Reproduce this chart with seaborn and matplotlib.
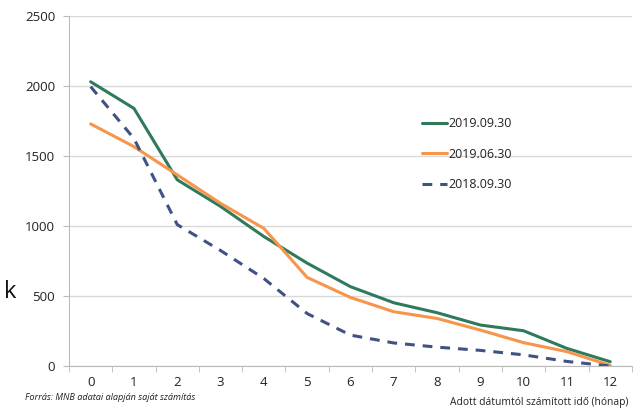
import matplotlib
matplotlib.use("Agg")
import matplotlib.pyplot as plt
import pandas as pd
import seaborn as sns

sns.set_style("white")
plt.rcParams["font.family"] = ["Open Sans", "DejaVu Sans"]

# months elapsed since the given date
months = list(range(13))
s_2019_09 = [2030, 1840, 1330, 1140, 925, 735, 567, 452, 381, 293, 252, 126, 31]
s_2019_06 = [1729, 1567, 1365, 1162, 983, 633, 490, 388, 340, 257, 167, 103, 5]
s_2018_09 = [1995, 1625, 1010, 825, 625, 375, 221, 165, 135, 112, 80, 33, 0]

labels = ["2019.09.30", "2019.06.30", "2018.09.30"]
colors = ["#2f7a5a", "#f7954a", "#3f5283"]
series = [s_2019_09, s_2019_06, s_2018_09]

fig = plt.figure(figsize=(6.36, 4.09), dpi=100)
ax = fig.add_axes([0.1085, 0.105, 0.885, 0.856])

for lab, col, vals in zip(labels, colors, series):
    df = pd.DataFrame({"month": months, "value": vals})
    line_style = (0, (3.2, 2.6)) if lab == "2018.09.30" else "-"
    sns.lineplot(data=df, x="month", y="value", ax=ax, color=col,
                 linewidth=2.2, linestyle=line_style, label=lab)

ax.set_xlim(-0.5, 12.5)
ax.set_ylim(0, 2500)
ax.set_yticks(range(0, 2501, 500))
ax.set_xticks(months)
ax.set_xticks([m + 0.5 for m in range(-1, 13)], minor=True)
ax.set_xlabel("")
ax.set_ylabel("")
ax.grid(axis="y", color="#d9d9d9", linewidth=1)
ax.tick_params(axis="x", which="major", length=0, labelsize=9.5, pad=7,
               colors="#222222")
ax.tick_params(axis="x", which="minor", length=4, color="#bbbbbb",
               direction="out", bottom=True)
ax.tick_params(axis="y", length=4, color="#bbbbbb", labelsize=9.5,
               colors="#222222", left=True, pad=6)
for side in ["top", "right"]:
    ax.spines[side].set_visible(False)
ax.spines["left"].set_color("#bbbbbb")
ax.spines["bottom"].set_color("#bbbbbb")

ax.legend(loc="upper left", bbox_to_anchor=(411 / 636, 1 - 106 / 409),
          bbox_transform=fig.transFigure, frameon=False, fontsize=9,
          handlelength=2.0, handletextpad=0.1, labelspacing=1.4,
          labelcolor="#222222")

fig.text(25 / 636, 1 - 398 / 409, "Forrás: MNB adatai alapján saját számítás",
         fontsize=6.6, style="italic", va="center", color="#222222")
fig.text(628 / 636, 1 - 403 / 409, "Adott dátumtól számított idő (hónap)",
         fontsize=7.4, ha="right", va="center", color="#222222")
fig.text(4 / 636, 1 - 292 / 409, "k", fontsize=17, va="center", color="#111111")

fig.savefig("out.png", dpi=100)
